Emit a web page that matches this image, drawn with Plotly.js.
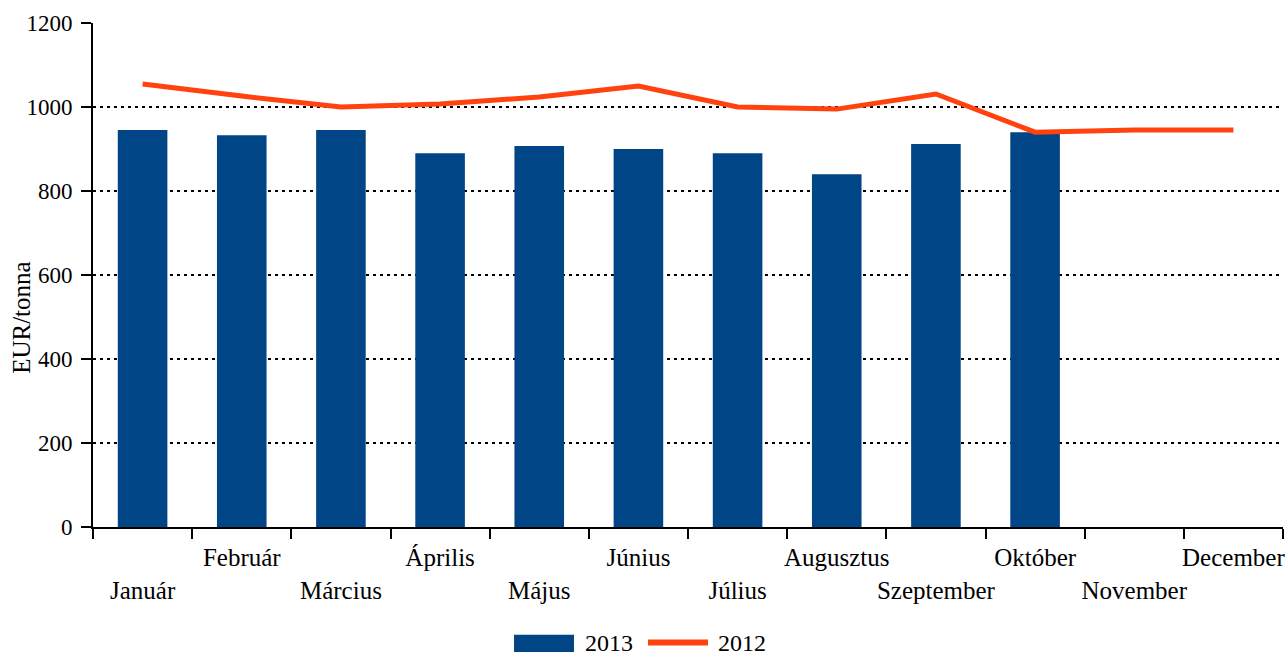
<!DOCTYPE html>
<html>
<head>
<meta charset="utf-8">
<script src="https://cdn.plot.ly/plotly-3.0.1.min.js"></script>
<style>html,body{margin:0;padding:0;background:#fff}#chart{width:1287px;height:656px}</style>
</head>
<body>
<div id="chart"></div>
<script>
const months = ["Január","Február","Március","Április","Május","Június","Július","Augusztus","Szeptember","Október","November","December"];
const values2013 = [945, 933, 945, 890, 907, 900, 890, 840, 912, 940, null, null];
const values2012 = [1055, 1026, 1000, 1007, 1024, 1050, 1000, 995, 1031, 940, 945, 945];
const yTicks = [0, 200, 400, 600, 800, 1000, 1200];
const seriesNames = ["2013", "2012"];
const colors = ["#004586", "#FF420E"];

const fam = "Liberation Serif, Times New Roman, serif";
const font = {family: fam, size: 23, color: "#000"};
const xFont = {family: fam, size: 25, color: "#000"};
const legFont = {family: fam, size: 24, color: "#000"};
const tickText = months.map((m, i) => (i % 2 === 0 ? "<br>" + m : m));

const data = [
  {type: "bar", name: seriesNames[0], x: months, y: values2013, marker: {color: colors[0]}},
  {type: "scatter", mode: "lines", name: seriesNames[1], x: months, y: values2012, line: {color: colors[1], width: 5}}
];

const legY = -0.23;
const layout = {
  width: 1287, height: 656,
  margin: {l: 93, r: 4, t: 23, b: 129},
  paper_bgcolor: "#fff", plot_bgcolor: "#fff",
  font: font,
  bargap: 0.5,
  showlegend: false,
  xaxis: {
    type: "category",
    tickmode: "array", tickvals: months, ticktext: tickText,
    tickson: "boundaries", tickangle: 0, automargin: false,
    ticks: "outside", ticklen: 10, tickwidth: 2, tickcolor: "#000",
    ticklabelstandoff: 7,
    showline: true, linecolor: "#000", linewidth: 2,
    showgrid: false, zeroline: false,
    tickfont: xFont, range: [-0.5, 11.5]
  },
  yaxis: {
    range: [0, 1200], automargin: false,
    tickmode: "array", tickvals: yTicks, ticktext: yTicks.map(String),
    ticks: "outside", ticklen: 10, tickwidth: 2, tickcolor: "#000",
    ticklabelstandoff: 4,
    showline: true, linecolor: "#000", linewidth: 2,
    showgrid: true, gridcolor: "#000", gridwidth: 2, griddash: "3px,4px",
    zeroline: false, tickfont: font
  },
  shapes: [
    {type: "rect", xref: "paper", yref: "paper", x0: 0.3538, x1: 0.4042, y0: -0.248, y1: -0.214,
     fillcolor: colors[0], line: {width: 0}},
    {type: "line", xref: "paper", yref: "paper", x0: 0.4664, x1: 0.5168, y0: -0.229, y1: -0.229,
     line: {color: colors[1], width: 6}}
  ],
  annotations: [
    {text: "EUR/tonna", xref: "paper", yref: "paper", x: 0, xshift: -71, y: 0.415, textangle: -90,
     showarrow: false, font: {family: fam, size: 25, color: "#000"}, xanchor: "center", yanchor: "middle"},
    {text: seriesNames[0], xref: "paper", yref: "paper", x: 0.4118, y: legY, xanchor: "left", yanchor: "middle",
     showarrow: false, font: legFont},
    {text: seriesNames[1], xref: "paper", yref: "paper", x: 0.5235, y: legY, xanchor: "left", yanchor: "middle",
     showarrow: false, font: legFont}
  ]
};

Plotly.newPlot("chart", data, layout, {displayModeBar: false, staticPlot: true});
</script>
</body>
</html>
